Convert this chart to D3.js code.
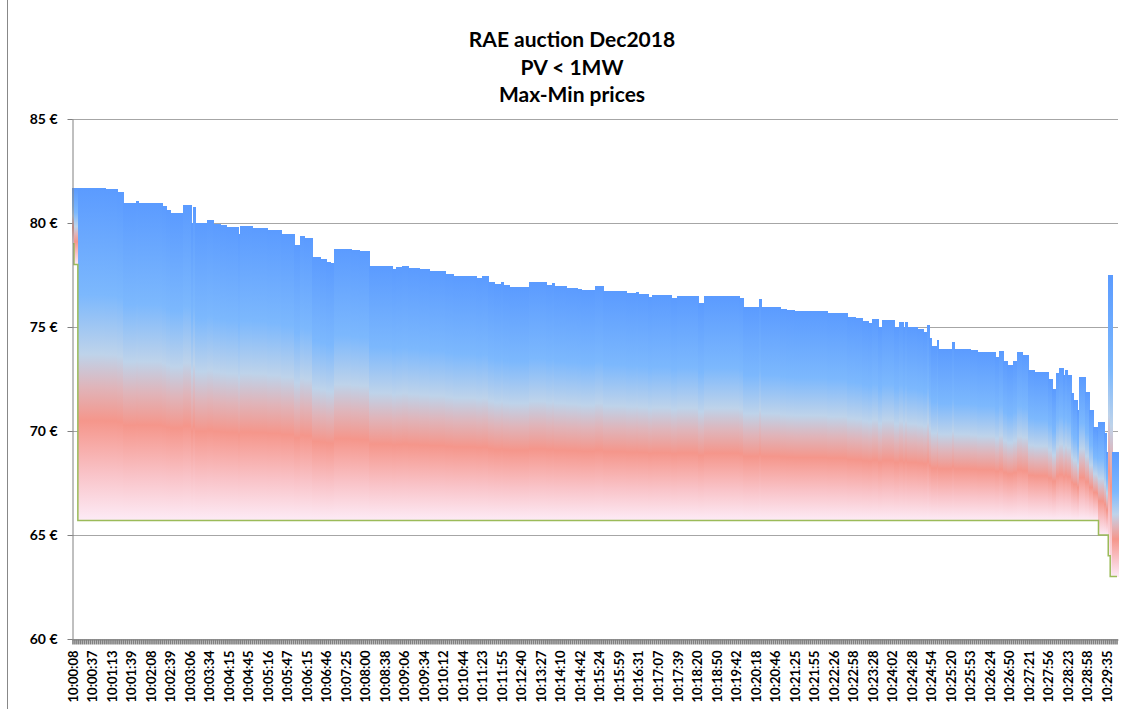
<!DOCTYPE html>
<html>
<head>
<meta charset="utf-8">
<script src="https://cdn.jsdelivr.net/npm/d3@7"></script>
<style>
    body { margin: 0; background: #fff; }
    text { font-family: Lato, "Open Sans", sans-serif; font-weight: bold; fill: #000; }
</style>
</head>
<body>
<svg id="chart"></svg>
<script>
// labels shown on the category axis (every 10th bid)
const timeLabels = ["10:00:08","10:00:37","10:01:13","10:01:39","10:02:08","10:02:39","10:03:06","10:03:34","10:04:15","10:04:45",
    "10:05:16","10:05:47","10:06:15","10:06:46","10:07:25","10:08:00","10:08:38","10:09:06","10:09:34","10:10:12",
    "10:10:44","10:11:23","10:11:55","10:12:40","10:13:27","10:14:10","10:14:42","10:15:24","10:15:59","10:16:31",
    "10:17:07","10:17:39","10:18:20","10:18:50","10:19:42","10:20:18","10:20:46","10:21:25","10:21:55","10:22:26",
    "10:22:58","10:23:28","10:24:02","10:24:28","10:24:54","10:25:20","10:25:53","10:26:24","10:26:50","10:27:21",
    "10:27:56","10:28:23","10:28:58","10:29:35"];
const labelStep = 10;
const nBids = 536;

// max price: [first bid index, price] - value holds until next entry
const maxSteps = [[0,81.67],[17,81.63],[23,81.48],[26,80.95],[33,81.06],[34,80.98],[46,80.83],[48,80.63],[50,80.48],[57,80.85],
    [61,80.0],[62,80.75],[63,79.99],[69,80.14],[72,79.97],[76,79.89],[79,79.81],[85,79.49],[86,79.84],[92,79.78],
    [100,79.66],[107,79.47],[114,78.94],[117,79.38],[119,79.26],[123,78.38],[127,78.27],[130,78.11],[132,78.06],[134,78.77],
    [143,78.69],[147,78.64],[152,77.95],[164,77.79],[166,77.87],[169,77.95],[172,77.84],[178,77.77],[183,77.69],[191,77.56],
    [195,77.47],[207,77.37],[210,77.44],[213,77.18],[216,77.05],[220,77.16],[221,77.0],[224,76.94],[234,77.15],[243,77.02],
    [246,77.13],[247,76.95],[253,76.89],[259,76.84],[261,76.78],[268,76.95],[272,76.71],[284,76.62],[289,76.68],[290,76.59],
    [295,76.44],[297,76.54],[307,76.38],[310,76.51],[321,76.15],[324,76.48],[342,76.38],[344,75.96],[352,76.33],[353,75.96],
    [363,75.87],[366,75.82],[370,75.79],[387,75.69],[397,75.48],[401,75.43],[405,75.27],[408,75.18],[410,75.37],[413,75.01],
    [415,75.32],[421,74.99],[424,75.26],[426,74.99],[427,75.26],[428,74.99],[433,74.89],[436,74.77],[438,75.1],[439,74.47],
    [440,74.08],[443,74.36],[444,73.96],[451,74.28],[452,73.96],[460,73.91],[464,73.81],[473,73.57],[475,73.86],[477,73.36],
    [479,73.17],[482,73.36],[484,73.81],[485,73.78],[487,73.65],[490,72.93],[493,72.85],[500,72.49],[502,72.0],[504,72.8],
    [506,73.04],[508,72.69],[509,72.93],[510,72.69],[512,71.81],[513,71.49],[515,71.0],[516,72.58],[519,71.89],[521,71.0],
    [523,70.17],[525,70.0],[526,70.42],[529,69.89],[530,69.0],[531,77.5],[533,69.0]];

// min price: [first bid index, price]
const minSteps = [[0,79.0],[1,78.0],[3,65.7],[526,65.0],[531,64.0],[532,63.0]];

const yTicks = [60, 65, 70, 75, 80, 85];
const titleLines = ["RAE auction Dec2018", "PV < 1MW", "Max-Min prices"];

const width = 1128;
const height = 709;
const plotLeft = 72, plotRight = 1118, plotTop = 119, plotBottom = 639;

let svg = d3.select("#chart")
    .attr("width", width)
    .attr("height", height);

let expandSteps = (steps, n) => {
    let out = [];
    let k = 0;
    for (let i = 0; i < n; i++) {
        if (k + 1 < steps.length && steps[k + 1][0] <= i) k++;
        out.push(steps[k][1]);
    }
    return out;
};

let maxPrice = expandSteps(maxSteps, nBids);
let minPrice = expandSteps(minSteps, nBids);
let bids = d3.range(nBids).map(i => ({ i: i, max: maxPrice[i], min: minPrice[i] }));

let scX = d3.scaleBand().domain(d3.range(nBids)).range([plotLeft, plotRight]).padding(0);
let scY = d3.scaleLinear().domain([60, 85]).range([plotBottom, plotTop]);

// bar gradient (per bar, top to bottom)
let grad = svg.append("defs").append("linearGradient")
    .attr("id", "barGrad")
    .attr("x1", 0).attr("y1", 0).attr("x2", 0).attr("y2", 1);
[[0, "#5b9bff"], [0.32, "#7cb8fd"], [0.5, "#bed3ea"], [0.6, "#e0b4b9"], [0.7, "#f5968b"], [0.86, "#f9c3c8"], [1, "#fdebf6"]]
    .forEach(s => grad.append("stop").attr("offset", s[0]).attr("stop-color", s[1]));

// chart frame (left edge)
svg.append("line")
    .attr("x1", 7.5).attr("x2", 7.5).attr("y1", 0).attr("y2", height)
    .attr("stroke", "#888");

// title
svg.append("g").selectAll("text")
    .data(titleLines)
    .enter()
    .append("text")
    .attr("x", 572)
    .attr("y", (d, i) => 47 + i * 27.5)
    .attr("text-anchor", "middle")
    .style("font-size", "21px")
    .text(d => d);

// gridlines
svg.append("g").selectAll("line")
    .data(yTicks)
    .enter()
    .append("line")
    .attr("x1", plotLeft).attr("x2", plotRight)
    .attr("y1", d => Math.round(scY(d)) + 0.5)
    .attr("y2", d => Math.round(scY(d)) + 0.5)
    .attr("stroke", "#a6a6a6");

// bars max-min
svg.append("g").selectAll("rect")
    .data(bids)
    .enter()
    .append("rect")
    .attr("x", d => scX(d.i))
    .attr("y", d => scY(d.max))
    .attr("width", scX.bandwidth() + 1)
    .attr("height", d => scY(d.min) - scY(d.max))
    .attr("shape-rendering", "crispEdges")
    .style("fill", "url(#barGrad)");

// min price line
let minLine = d3.line()
    .x(d => scX(d.i) + scX.bandwidth() / 2)
    .y(d => scY(d.min))
    .curve(d3.curveStep);
svg.append("path")
    .datum(bids)
    .attr("d", minLine)
    .attr("fill", "none")
    .attr("stroke", "#9bbb59")
    .attr("stroke-width", 1.5);

// axes
let axisY = d3.axisLeft(scY)
    .tickValues(yTicks)
    .tickSize(5)
    .tickSizeOuter(0)
    .tickPadding(10)
    .tickFormat(d => d + " €");
let gY = svg.append("g")
    .attr("transform", `translate(${plotLeft + 0.5}, 0)`)
    .call(axisY);
gY.selectAll("text").style("font-size", "14px");

let axisX = d3.axisBottom(scX)
    .tickValues(d3.range(nBids))
    .tickSize(5)
    .tickSizeOuter(0)
    .tickFormat(i => i % labelStep === 0 ? timeLabels[i / labelStep] : "");
let gX = svg.append("g")
    .attr("transform", `translate(0, ${plotBottom + 0.5})`)
    .call(axisX);
gX.selectAll(".tick line").attr("stroke-width", 1.6);
gX.selectAll("text")
    .style("font-size", "13px")
    .style("text-anchor", "end")
    .attr("transform", "rotate(-90)")
    .attr("x", -11)
    .attr("y", 0)
    .attr("dy", "0.35em");

svg.selectAll(".domain, .tick line").attr("stroke", "#808080");
</script>
</body>
</html>
